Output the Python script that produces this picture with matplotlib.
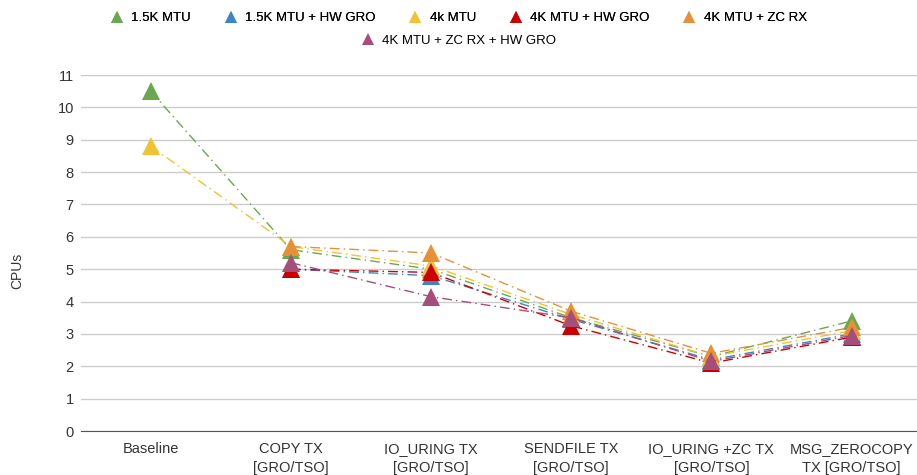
import numpy as np
import matplotlib.pyplot as plt
from matplotlib.lines import Line2D

plt.rcParams['font.family'] = ['Liberation Sans', 'DejaVu Sans']

categories = ["Baseline", "COPY TX\n[GRO/TSO]", "IO_URING TX\n[GRO/TSO]", "SENDFILE TX\n[GRO/TSO]",
              "IO_URING +ZC TX\n[GRO/TSO]", "MSG_ZEROCOPY\nTX [GRO/TSO]"]

mtu15 = [10.5, 5.6, 5.0, 3.5, 2.3, 3.4]
mtu15_gro = [np.nan, 5.0, 4.8, 3.45, 2.2, 3.0]
mtu4k = [8.8, 5.7, 5.1, 3.6, 2.3, 3.1]
mtu4k_gro = [np.nan, 5.0, 4.9, 3.25, 2.1, 2.9]
mtu4k_zc = [np.nan, 5.7, 5.5, 3.7, 2.4, 3.2]
mtu4k_zc_gro = [np.nan, 5.2, 4.15, 3.5, 2.15, 2.95]

series = [
    ("1.5K MTU", mtu15, "#6aa84f"),
    ("1.5K MTU + HW GRO", mtu15_gro, "#3d85c6"),
    ("4k MTU", mtu4k, "#f1c232"),
    ("4K MTU + HW GRO", mtu4k_gro, "#cc0000"),
    ("4K MTU + ZC RX", mtu4k_zc, "#e69138"),
    ("4K MTU + ZC RX + HW GRO", mtu4k_zc_gro, "#a64d79"),
]

fig = plt.figure(figsize=(9.17, 4.75), dpi=100)
ax = fig.add_axes([0.088, 0.0926, 0.917, 0.7495])

x = np.arange(len(categories))
for name, vals, col in series:
    v = np.array(vals, dtype=float)
    m = ~np.isnan(v)
    ax.plot(x[m], v[m], color=col, lw=1, ls=(0, (7, 3, 1, 3)), marker="^",
            markersize=13, markeredgewidth=0, zorder=3)

ax.set_xlim(-0.5, len(categories) - 0.5)
ax.set_ylim(0, 11)
ax.set_yticks(range(0, 12))
ax.set_xticks(x)
ax.set_xticklabels(categories, fontsize=10.5, color="#333333", linespacing=1.45)
ax.tick_params(axis="y", labelsize=10.5, colors="#333333", length=0, pad=5)
ax.tick_params(axis="x", length=0, pad=8)
ax.grid(axis="y", color="#cccccc", lw=1)
ax.set_axisbelow(True)
for s in ["top", "right", "left"]:
    ax.spines[s].set_visible(False)
ax.spines["bottom"].set_color("#555555")
ax.set_ylabel("CPUs", fontsize=10, color="#333333", va="center")
ax.yaxis.set_label_coords(-0.075, 0.45)

handles = [Line2D([], [], ls="none", marker="^", markersize=9, markeredgewidth=0, color=c)
           for _, _, c in series]
labels = [n for n, _, _ in series]
leg1 = fig.legend(handles[:5], labels[:5], loc="center", bbox_to_anchor=(0.5, 0.962), ncol=5,
                  frameon=False, fontsize=9.5, handletextpad=0.6, columnspacing=2.5, handlelength=1)
leg2 = fig.legend(handles[5:], labels[5:], loc="center", bbox_to_anchor=(0.5, 0.914), ncol=1,
                  frameon=False, fontsize=9.5, handletextpad=0.6, handlelength=1)
fig.add_artist(leg1)

fig.savefig("out.png", dpi=100)
